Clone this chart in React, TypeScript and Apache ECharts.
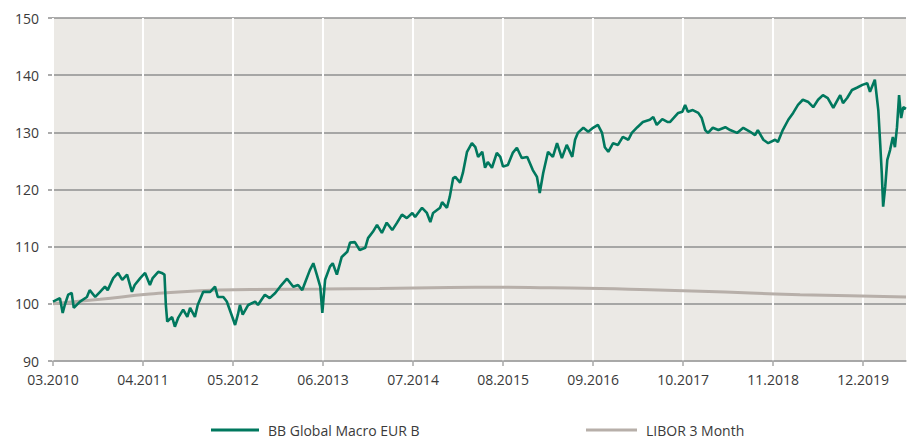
import React, { useEffect, useRef } from "react";
import * as echarts from "echarts";

// x values are months since 03.2010 (fractional), y values are index levels
const fundMonths = [
  0, 1.0, 1.4, 1.7, 2.2, 2.7, 3.0, 3.9, 4.9, 5.3, 6.1, 6.8, 7.5, 7.9, 8.7, 9.4, 10.0, 10.7, 11.4, 11.8,
  12.6, 13.3, 14.0, 14.4, 15.2, 15.7, 16.1, 16.3, 16.5, 17.2, 17.6, 18.1, 18.8, 19.4, 19.8, 20.5, 20.9,
  21.7, 22.7, 23.4, 23.8, 24.6, 25.1, 25.9, 26.3, 26.7, 27.0, 27.4, 28.2, 29.2, 29.6, 30.6, 31.3, 32.1,
  32.8, 33.8, 34.7, 35.4, 36.0, 36.4, 37.1, 37.6, 38.1, 38.6, 38.9, 39.3, 40.0, 40.4, 41.0, 41.7, 42.5,
  42.9, 43.6, 44.3, 45.1, 45.5, 46.2, 46.8, 47.5, 48.2, 49.0, 49.7, 50.4, 51.1, 51.9, 52.3, 53.3, 54.0,
  54.5, 54.9, 55.9, 56.2, 56.9, 57.3, 57.8, 58.1, 58.8, 59.2, 59.8, 60.5, 61.0, 61.4, 62.0, 62.4, 62.8,
  63.4, 64.1, 64.6, 65.0, 65.7, 66.4, 67.0, 67.7, 68.5, 69.3, 69.9, 70.3, 70.8, 71.5, 72.2, 72.8, 73.5,
  74.2, 75.0, 75.4, 75.8, 76.6, 77.3, 78.0, 78.7, 79.3, 79.7, 80.2, 80.9, 81.6, 82.3, 83.1, 83.6, 84.4,
  85.2, 86.2, 86.7, 87.2, 88.0, 88.8, 89.1, 90.3, 90.9, 91.3, 91.7, 92.4, 93.2, 93.7, 94.2, 94.6, 95.3,
  96.1, 97.1, 97.8, 98.8, 99.7, 100.7, 101.4, 101.8, 102.6, 103.3, 104.3, 104.7, 105.4, 106.2, 106.9,
  107.6, 108.3, 109.1, 109.8, 110.5, 111.2, 111.9, 112.7, 113.7, 114.1, 114.7, 115.4, 116.1, 116.9,
  117.6, 118.0, 118.7, 119.2, 119.5, 119.7, 119.9, 120.2, 120.5, 120.9, 121.3, 121.6, 121.9, 122.2,
  122.5, 122.8, 123.2,
];
const fundValues = [
  100.4, 101.0, 98.4, 99.8, 101.6, 101.9, 99.3, 100.4, 101.2, 102.4, 101.2, 102.1, 103.0, 102.4, 104.5,
  105.4, 104.2, 105.1, 102.1, 103.3, 104.5, 105.4, 103.3, 104.5, 105.6, 105.4, 105.1, 99.8, 96.9, 97.7,
  96.0, 97.6, 99.0, 97.7, 99.3, 97.7, 99.8, 102.1, 102.1, 103.0, 101.2, 101.2, 100.4, 97.7, 96.3, 98.1,
  99.8, 98.1, 99.8, 100.4, 99.8, 101.6, 101.0, 101.9, 103.0, 104.4, 103.0, 103.3, 102.4, 103.7, 105.9,
  107.1, 105.1, 103.0, 98.4, 104.2, 106.5, 107.1, 105.1, 108.2, 109.1, 110.7, 110.8, 109.4, 109.8, 111.5,
  112.6, 113.8, 112.4, 114.2, 112.9, 114.2, 115.6, 115.0, 115.9, 115.2, 116.8, 115.9, 114.3, 115.9,
  116.8, 117.8, 116.8, 118.7, 122.0, 122.2, 121.2, 122.9, 126.6, 128.1, 127.4, 125.7, 126.6, 123.8,
  124.8, 123.8, 126.4, 125.7, 124.0, 124.3, 126.4, 127.3, 125.5, 125.7, 123.4, 122.2, 119.4, 122.9,
  126.6, 125.7, 128.1, 125.5, 127.8, 125.7, 128.7, 129.9, 130.8, 130.1, 130.8, 131.3, 129.9, 127.4,
  126.6, 128.1, 127.8, 129.2, 128.7, 129.9, 130.9, 131.8, 132.2, 132.7, 131.3, 132.3, 131.8, 131.8,
  133.4, 133.6, 134.8, 133.6, 133.9, 133.4, 132.5, 130.4, 129.9, 130.8, 130.4, 130.9, 130.4, 129.9,
  130.8, 130.1, 129.5, 130.4, 128.7, 128.1, 128.7, 128.3, 130.4, 132.2, 133.4, 134.8, 135.7, 135.3,
  134.4, 135.7, 136.5, 136.0, 134.3, 136.5, 135.1, 136.0, 137.4, 137.8, 138.3, 138.6, 137.1, 139.2,
  133.9, 127.4, 122.9, 117.0, 120.5, 125.2, 126.9, 129.2, 127.4, 130.9, 136.5, 132.5, 134.4, 134.1,
];

const liborMonths = [0, 6.8, 14.0, 21.2, 28.5, 39.0, 47.2, 57.3, 64.6, 71.8, 79.0, 86.2, 93.5, 100.7, 107.9, 115.1, 123.2];
const liborValues = [100.0, 100.8, 101.7, 102.3, 102.5, 102.6, 102.7, 102.85, 102.9, 102.8, 102.7, 102.45, 102.2, 101.9, 101.6, 101.4, 101.2];

const xTickMonths = [0, 13, 26, 39, 52, 65, 78, 91, 104, 117];
const xTickLabels = ["03.2010", "04.2011", "05.2012", "06.2013", "07.2014", "08.2015", "09.2016", "10.2017", "11.2018", "12.2019"];
const xMax = 123.2;

const yMin = 90;
const yMax = 150;
const yStep = 10;

const seriesNames = ["BB Global Macro EUR B", "LIBOR 3 Month"];
const colors = ["#00785e", "#b7afa9"];

const FONT = "'Open Sans', sans-serif";
const TEXT = "#3a3a3a";

export default function App() {
  const ref = useRef<HTMLDivElement>(null);
  useEffect(() => {
    if (!ref.current) return;
    const chart = echarts.init(ref.current, null, { renderer: "svg" });
    const fundData = fundMonths.map((m, i) => [m, fundValues[i]]);
    const liborData = liborMonths.map((m, i) => [m, liborValues[i]]);
    const legendCommon = {
      icon: "rect",
      itemHeight: 3,
      top: 423,
      padding: 0,
      textStyle: { fontSize: 14, color: TEXT, fontFamily: FONT, padding: [0, 0, 0, 4] },
    };
    chart.setOption({
      animation: false,
      backgroundColor: "#ffffff",
      grid: {
        left: 53,
        right: 7,
        top: 18,
        bottom: 81,
        show: true,
        backgroundColor: "#ebe9e5",
        borderWidth: 0,
        containLabel: false,
      },
      legend: [
        { ...legendCommon, left: 211, itemWidth: 48, data: [seriesNames[0]] },
        { ...legendCommon, left: 586, itemWidth: 51, data: [seriesNames[1]] },
      ],
      xAxis: {
        type: "value",
        min: 0,
        max: xMax,
        interval: 13,
        z: 1,
        axisLine: { show: true, lineStyle: { color: "#a8a8a8", width: 1.5 } },
        axisTick: { show: true, length: 5, lineStyle: { color: "#a8a8a8", width: 1.5 }, customValues: xTickMonths },
        axisLabel: {
          customValues: xTickMonths,
          margin: 11,
          fontSize: 14,
          color: TEXT,
          fontFamily: FONT,
          formatter: (v: number) => {
            const i = xTickMonths.indexOf(Math.round(v));
            return i >= 0 ? xTickLabels[i] : "";
          },
        },
        splitLine: { show: true, lineStyle: { color: "#ffffff", width: 2 } },
      },
      yAxis: {
        type: "value",
        min: yMin,
        max: yMax,
        interval: yStep,
        z: 0,
        axisLine: { show: true, lineStyle: { color: "#a8a8a8", width: 1.5 } },
        axisTick: { show: true, length: 5, lineStyle: { color: "#8f8f8f", width: 1.5 } },
        axisLabel: { margin: 14, fontSize: 14, color: TEXT, fontFamily: FONT },
        splitLine: { show: true, lineStyle: { color: "#8f8f8f", width: 1.5 } },
      },
      series: [
        {
          name: seriesNames[1],
          type: "line",
          data: liborData,
          smooth: true,
          showSymbol: false,
          color: colors[1],
          lineStyle: { color: colors[1], width: 3 },
          z: 3,
        },
        {
          name: seriesNames[0],
          type: "line",
          data: fundData,
          showSymbol: false,
          color: colors[0],
          lineStyle: { color: colors[0], width: 2.6 },
          z: 4,
        },
      ],
    });
    return () => chart.dispose();
  }, []);
  return (
    <div
      ref={ref}
      style={{ position: "fixed", left: 0, top: 0, width: 913, height: 442 }}
    />
  );
}
